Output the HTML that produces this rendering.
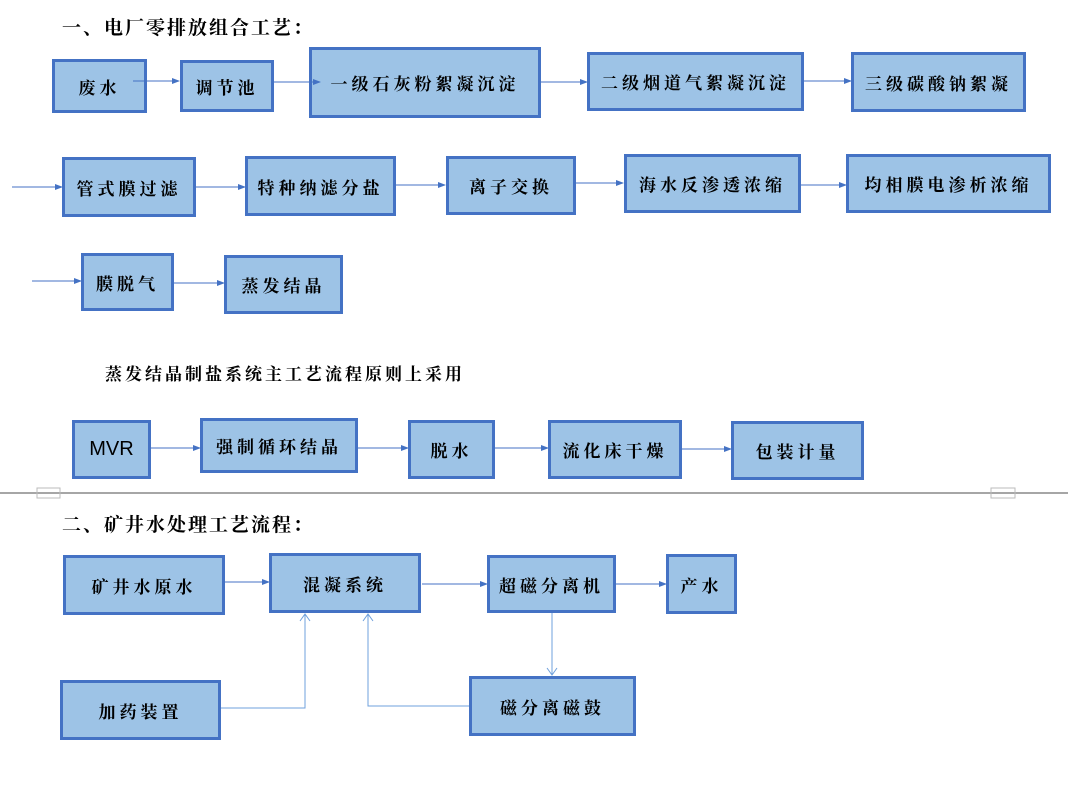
<!DOCTYPE html>
<html><head><meta charset="utf-8"><style>
body{margin:0;width:1068px;height:806px;background:#fff;position:relative;overflow:hidden;font-family:"Liberation Serif","Noto Serif CJK SC",serif;}
.b{position:absolute;box-sizing:border-box;background:#9dc3e6;border:3px solid #4472c4;display:flex;align-items:center;justify-content:center;font-size:17px;font-weight:bold;letter-spacing:4px;color:#000;white-space:nowrap;}
.t{position:absolute;font-size:19px;white-space:nowrap;letter-spacing:2px;font-weight:bold}
svg{position:absolute;left:0;top:0}
</style></head><body>
<div class="t" style="left:62px;top:13px">一、电厂零排放组合工艺：</div>
<div class="b" style="left:52px;top:59px;width:95px;height:54px">废水</div>
<div class="b" style="left:180px;top:60px;width:94px;height:52px">调节池</div>
<div class="b" style="left:309px;top:47px;width:232px;height:71px">一级石灰粉絮凝沉淀</div>
<div class="b" style="left:587px;top:52px;width:217px;height:59px">二级烟道气絮凝沉淀</div>
<div class="b" style="left:851px;top:52px;width:175px;height:60px">三级碳酸钠絮凝</div>
<div class="b" style="left:62px;top:157px;width:134px;height:60px">管式膜过滤</div>
<div class="b" style="left:245px;top:156px;width:151px;height:60px">特种纳滤分盐</div>
<div class="b" style="left:446px;top:156px;width:130px;height:59px">离子交换</div>
<div class="b" style="left:624px;top:154px;width:177px;height:59px">海水反渗透浓缩</div>
<div class="b" style="left:846px;top:154px;width:205px;height:59px">均相膜电渗析浓缩</div>
<div class="b" style="left:81px;top:253px;width:93px;height:58px">膜脱气</div>
<div class="b" style="left:224px;top:255px;width:119px;height:59px">蒸发结晶</div>
<div class="t" style="left:105px;top:360px;font-size:17px;letter-spacing:3px">蒸发结晶制盐系统主工艺流程原则上采用</div>
<div class="b" style="left:72px;top:420px;width:79px;height:59px;letter-spacing:0;font-family:'Liberation Sans',sans-serif;font-size:20px;font-weight:normal">MVR</div>
<div class="b" style="left:200px;top:418px;width:158px;height:55px">强制循环结晶</div>
<div class="b" style="left:408px;top:420px;width:87px;height:59px">脱水</div>
<div class="b" style="left:548px;top:420px;width:134px;height:59px">流化床干燥</div>
<div class="b" style="left:731px;top:421px;width:133px;height:59px">包装计量</div>
<div class="t" style="left:62px;top:510px">二、矿井水处理工艺流程：</div>
<div class="b" style="left:63px;top:555px;width:162px;height:60px">矿井水原水</div>
<div class="b" style="left:269px;top:553px;width:152px;height:60px">混凝系统</div>
<div class="b" style="left:487px;top:555px;width:129px;height:58px">超磁分离机</div>
<div class="b" style="left:666px;top:554px;width:71px;height:60px">产水</div>
<div class="b" style="left:60px;top:680px;width:161px;height:60px">加药装置</div>
<div class="b" style="left:469px;top:676px;width:167px;height:60px">磁分离磁鼓</div>
<svg width="1068" height="806">
<defs><marker id="a" markerWidth="8" markerHeight="8" refX="7" refY="4" orient="auto" markerUnits="userSpaceOnUse"><path d="M0,1 L8,4 L0,7z" fill="#4472c4"/></marker>
<marker id="o" markerWidth="10" markerHeight="12" refX="8" refY="6" orient="auto" markerUnits="userSpaceOnUse"><path d="M1,1 L8,6 L1,11" fill="none" stroke="#6fa0dc" stroke-width="1"/></marker></defs>
<g stroke="#4472c4" stroke-width="1" marker-end="url(#a)" fill="none">
<line x1="133" y1="81" x2="179" y2="81"/>
<line x1="274" y1="82" x2="320" y2="82"/>
<line x1="541" y1="82" x2="587" y2="82"/>
<line x1="804" y1="81" x2="851" y2="81"/>
<line x1="12" y1="187" x2="62" y2="187"/>
<line x1="196" y1="187" x2="245" y2="187"/>
<line x1="396" y1="185" x2="445" y2="185"/>
<line x1="576" y1="183" x2="623" y2="183"/>
<line x1="801" y1="185" x2="846" y2="185"/>
<line x1="32" y1="281" x2="81" y2="281"/>
<line x1="174" y1="283" x2="224" y2="283"/>
<line x1="151" y1="448" x2="200" y2="448"/>
<line x1="358" y1="448" x2="408" y2="448"/>
<line x1="495" y1="448" x2="548" y2="448"/>
<line x1="682" y1="449" x2="731" y2="449"/>
<line x1="225" y1="582" x2="269" y2="582"/>
<line x1="422" y1="584" x2="487" y2="584"/>
<line x1="616" y1="584" x2="666" y2="584"/>
</g>
<g stroke="#6fa0dc" stroke-width="1" fill="none">
<polyline points="221,708 305,708 305,614" marker-end="url(#o)"/>
<polyline points="469,706 368,706 368,614" marker-end="url(#o)"/>
<line x1="552" y1="613" x2="552" y2="675" marker-end="url(#o)"/>
</g>
<line x1="0" y1="493" x2="1068" y2="493" stroke="#a6a6a6" stroke-width="2"/>
<rect x="37" y="488" width="23" height="10" fill="none" stroke="#bbb" stroke-width="1"/>
<rect x="991" y="488" width="24" height="10" fill="none" stroke="#bbb" stroke-width="1"/>
</svg>
</body></html>
